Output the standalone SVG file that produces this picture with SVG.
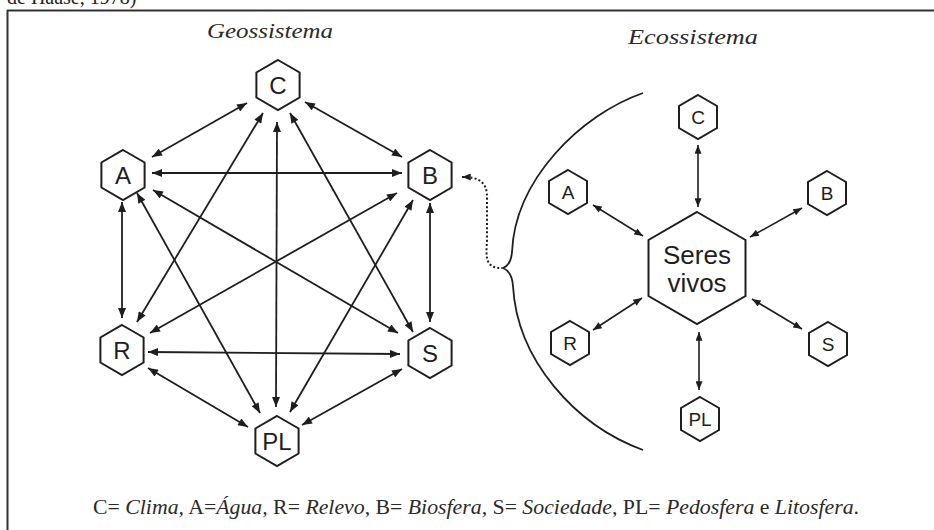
<svg xmlns="http://www.w3.org/2000/svg" width="934" height="530" viewBox="0 0 934 530">
<style>
.hex{fill:#fff;stroke:#1e1e1e;stroke-width:2;stroke-linejoin:miter}
.lbl{font-family:"Liberation Sans",Arial,sans-serif;fill:#1e1e1e;text-anchor:middle}
.gl{font-size:24px}
.el{font-size:19px}
.sv{font-size:26px}
.ttl{font-family:"Liberation Serif","Times New Roman",serif;font-style:italic;font-size:21px;fill:#2a2a2a}
.cap{font-family:"Liberation Serif","Times New Roman",serif;font-size:20px;fill:#2a2a2a}
.cap .i{font-style:italic}
.edge{stroke:#1e1e1e;stroke-width:1.8;fill:none;marker-start:url(#ah);marker-end:url(#ah)}
.eedge{stroke:#1e1e1e;stroke-width:1.6;fill:none;marker-start:url(#ahs);marker-end:url(#ahs)}
</style>
<defs>
<marker id="ah" viewBox="0 0 10 8" refX="10" refY="4" markerWidth="11" markerHeight="8" markerUnits="userSpaceOnUse" orient="auto-start-reverse">
<path d="M0,0 L10,4 L0,8 Z" fill="#1e1e1e"/>
</marker>
<marker id="ahs" viewBox="0 0 10 8" refX="10" refY="4" markerWidth="10" markerHeight="7" markerUnits="userSpaceOnUse" orient="auto-start-reverse">
<path d="M0,0 L10,4 L0,8 Z" fill="#1e1e1e"/>
</marker>
<polygon id="hg" points="0,-25 21.6,-12.5 21.6,12.5 0,25 -21.6,12.5 -21.6,-12.5"/>
<polygon id="he" points="0,-22 19,-11 19,11 0,22 -19,11 -19,-11"/>
</defs>
<rect width="934" height="530" fill="#fff"/>
<text x="7" y="4" font-family="Liberation Serif,Times New Roman,serif" font-size="20" fill="#222">de Haase, 1978)</text>
<path d="M7,10.5 H934 M7.5,10 V530" stroke="#333" stroke-width="2" fill="none"/>
<text class="ttl" x="207" y="38" textLength="126" lengthAdjust="spacingAndGlyphs">Geossistema</text>
<text class="ttl" x="628" y="44" textLength="130" lengthAdjust="spacingAndGlyphs">Ecossistema</text>
<g id="connectors">
<line class="edge" x1="247" y1="103" x2="152" y2="157"/>
<line class="edge" x1="305" y1="102" x2="402" y2="157"/>
<line class="edge" x1="152" y1="173" x2="402" y2="173"/>
<line class="edge" x1="263" y1="113" x2="137" y2="322"/>
<line class="edge" x1="277" y1="122" x2="276" y2="407"/>
<line class="edge" x1="290" y1="113" x2="413" y2="332"/>
<line class="edge" x1="122" y1="202" x2="122" y2="318"/>
<line class="edge" x1="137" y1="193" x2="260" y2="413"/>
<line class="edge" x1="153" y1="190" x2="398" y2="333"/>
<line class="edge" x1="397" y1="193" x2="150" y2="333"/>
<line class="edge" x1="413" y1="200" x2="290" y2="412"/>
<line class="edge" x1="430" y1="203" x2="430" y2="322"/>
<line class="edge" x1="148" y1="352" x2="400" y2="354"/>
<line class="edge" x1="148" y1="368" x2="248" y2="427"/>
<line class="edge" x1="402" y1="369" x2="302" y2="425"/>
<line class="eedge" x1="698" y1="145" x2="698" y2="207"/>
<line class="eedge" x1="593" y1="205" x2="643" y2="236"/>
<line class="eedge" x1="802" y1="208" x2="750" y2="237"/>
<line class="eedge" x1="642" y1="298" x2="593" y2="330"/>
<line class="eedge" x1="752" y1="299" x2="802" y2="329"/>
<line class="eedge" x1="699" y1="332" x2="699" y2="390"/>
<path d="M462,177 C478,177 488,181 487,200 L487,240 C486,258 485,268 502,268" stroke="#1e1e1e" stroke-width="2" fill="none" stroke-dasharray="2 2.2" marker-start="url(#ahs)"/>
<path d="M643,93 C580,115 515,180 512,252 Q511,265 503,268 Q512,272 513,286 C517,360 575,425 643,450" stroke="#1e1e1e" stroke-width="1.8" fill="none"/>
</g>
<g id="geo-C"><use href="#hg" x="278" y="85" class="hex"/><text class="lbl gl" x="278" y="94">C</text></g>
<g id="geo-A"><use href="#hg" x="123" y="175" class="hex"/><text class="lbl gl" x="123" y="184">A</text></g>
<g id="geo-B"><use href="#hg" x="430" y="175" class="hex"/><text class="lbl gl" x="430" y="184">B</text></g>
<g id="geo-R"><use href="#hg" x="122" y="350" class="hex"/><text class="lbl gl" x="122" y="359">R</text></g>
<g id="geo-S"><use href="#hg" x="430" y="353" class="hex"/><text class="lbl gl" x="430" y="362">S</text></g>
<g id="geo-PL"><use href="#hg" x="277" y="441" class="hex"/><text class="lbl gl" x="277" y="450">PL</text></g>
<g id="eco-SV"><polygon class="hex" points="697,212 745.5,240 745.5,296 697,324 648.5,296 648.5,240"/><text class="lbl sv" x="697" y="264">Seres</text><text class="lbl sv" x="697" y="292">vivos</text></g>
<g id="eco-C"><use href="#he" x="698" y="117" class="hex"/><text class="lbl el" x="698" y="124">C</text></g>
<g id="eco-A"><use href="#he" x="568" y="192" class="hex"/><text class="lbl el" x="568" y="199">A</text></g>
<g id="eco-B"><use href="#he" x="827" y="193" class="hex"/><text class="lbl el" x="827" y="200">B</text></g>
<g id="eco-R"><use href="#he" x="570" y="343" class="hex"/><text class="lbl el" x="570" y="350">R</text></g>
<g id="eco-S"><use href="#he" x="828" y="344" class="hex"/><text class="lbl el" x="828" y="351">S</text></g>
<g id="eco-PL"><use href="#he" x="700" y="419" class="hex"/><text class="lbl el" x="700" y="426">PL</text></g>
<text class="cap" x="93" y="514" textLength="766" lengthAdjust="spacingAndGlyphs">C= <tspan class="i">Clima,</tspan> A=<tspan class="i">Água,</tspan> R= <tspan class="i">Relevo</tspan>, B= <tspan class="i">Biosfera,</tspan> S= <tspan class="i">Sociedade</tspan>, PL= <tspan class="i">Pedosfera</tspan> e <tspan class="i">Litosfera</tspan>.</text>
</svg>
